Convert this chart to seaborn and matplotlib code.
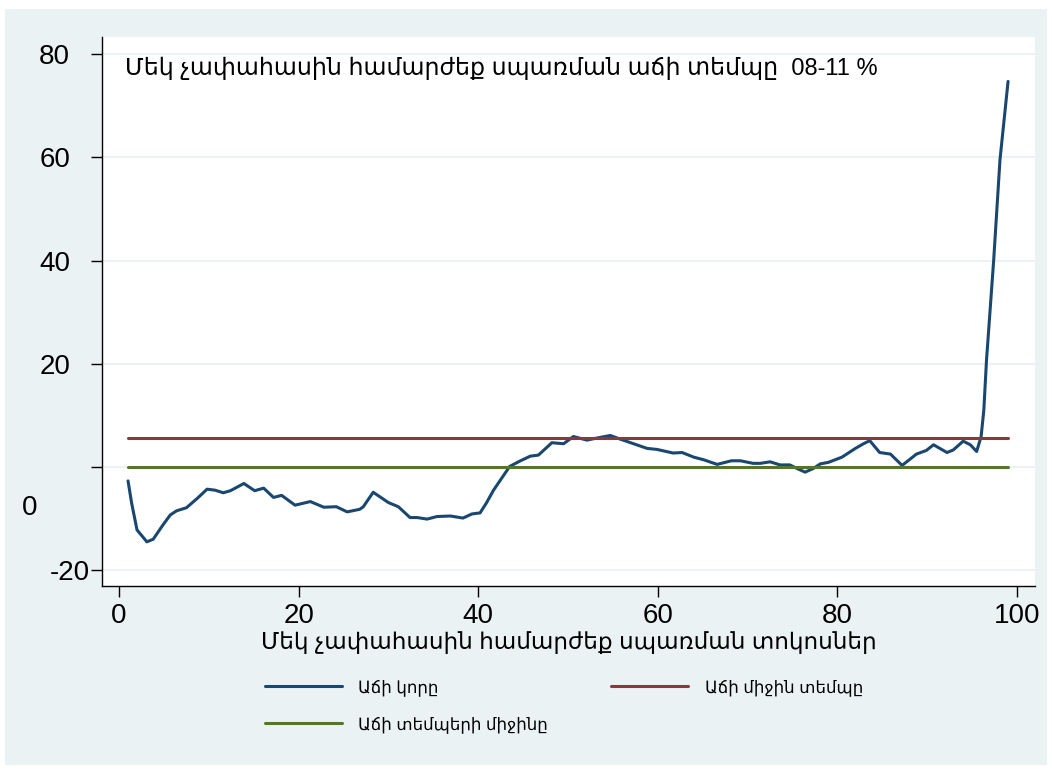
import pandas as pd
import matplotlib
matplotlib.use("Agg")
import matplotlib.pyplot as plt
import matplotlib.transforms as mtransforms
from matplotlib.patches import Rectangle
import seaborn as sns

# --- Տվյալներ (կարդացված գծապատկերից) ---
# սպառման տոկոսներ և աճի կորի արժեքներ
pct = [1.0, 1.4, 2.0, 3.1, 3.8, 4.9, 5.7, 6.4, 7.5, 8.7, 9.8, 10.7, 11.6, 12.4,
       13.9, 15.1, 16.1, 17.2, 18.1, 19.6, 21.3, 22.8, 24.2, 25.4, 26.8, 27.2,
       28.3, 30.0, 31.1, 32.4, 33.2, 34.3, 35.4, 36.9, 38.3, 39.3, 40.2, 40.9,
       41.7, 42.6, 43.5, 44.7, 45.8, 46.7, 48.2, 49.5, 50.6, 52.1, 53.2, 54.7,
       55.8, 57.3, 58.8, 59.9, 61.7, 62.7, 64.0, 65.1, 66.6, 68.2, 69.2, 70.6,
       71.4, 72.5, 73.6, 74.7, 75.5, 76.4, 77.3, 78.1, 79.0, 80.5, 82.0, 82.9,
       83.6, 84.7, 85.9, 87.2, 88.8, 89.9, 90.7, 92.2, 92.9, 94.0, 94.8, 95.5,
       96.0, 96.3, 96.6, 97.4, 98.1, 99.0]
growth_curve = [-2.7, -7.0, -12.2, -14.5, -14.0, -11.2, -9.3, -8.5, -7.9, -6.1,
                -4.3, -4.5, -5.0, -4.6, -3.2, -4.6, -4.1, -5.9, -5.5, -7.4, -6.7,
                -7.8, -7.7, -8.7, -8.2, -7.7, -4.9, -6.9, -7.7, -9.8, -9.8, -10.1,
                -9.6, -9.5, -9.9, -9.1, -8.9, -7.0, -4.5, -2.2, 0.1, 1.2, 2.1, 2.3,
                4.7, 4.5, 5.9, 5.2, 5.6, 6.1, 5.4, 4.5, 3.6, 3.4, 2.7, 2.8, 1.9,
                1.4, 0.5, 1.2, 1.2, 0.7, 0.7, 1.0, 0.4, 0.4, -0.3, -1.0, -0.3, 0.6,
                0.9, 1.9, 3.6, 4.5, 5.1, 2.8, 2.5, 0.3, 2.5, 3.2, 4.3, 2.8, 3.3,
                5.0, 4.3, 3.0, 5.9, 11.0, 20.7, 40.1, 59.5, 74.7]
avg_growth = 5.6       # աճի միջին տեմպը
mean_of_rates = 0.0    # աճի տեմպերի միջինը
pct_range = [1, 99]

title_txt = "Մեկ չափահասին համարժեք սպառման աճի տեմպը  08-11 %"
xlabel_txt = "Մեկ չափահասին համարժեք սպառման տոկոսներ"
names = ["Աճի կորը", "Աճի միջին տեմպը", "Աճի տեմպերի միջինը"]
colors = ["#1A476F", "#90353B", "#55752F"]
xticks = [0, 20, 40, 60, 80, 100]
yticks = [-20, 0, 20, 40, 60, 80]

sns.set_theme(style="white")
plt.rcParams['font.family'] = ['Liberation Sans', 'DejaVu Sans']
plt.rcParams['text.color'] = 'black'
plt.rcParams['axes.labelcolor'] = 'black'
plt.rcParams['xtick.color'] = 'black'
plt.rcParams['ytick.color'] = 'black'
bg = "#EAF2F3"

fig = plt.figure(figsize=(10.52, 7.71), dpi=100, facecolor="white")
fig.add_artist(Rectangle((5 / 1052, 6 / 771), 1042 / 1052, 756 / 771,
                         transform=fig.transFigure, facecolor=bg,
                         edgecolor="none", zorder=-10))
ax = fig.add_axes([102 / 1052, 185 / 771, 933 / 1052, 549 / 771])
ax.set_facecolor("white")

df = pd.concat([
    pd.DataFrame({"x": pct, "y": growth_curve, "series": names[0]}),
    pd.DataFrame({"x": pct_range, "y": [avg_growth] * 2, "series": names[1]}),
    pd.DataFrame({"x": pct_range, "y": [mean_of_rates] * 2, "series": names[2]}),
])
sns.lineplot(data=df, x="x", y="y", hue="series",
             hue_order=[names[0], names[2], names[1]],
             palette=dict(zip(names, colors)), estimator=None, lw=2.2, ax=ax)

ax.set_xlim(-1.9, 102.0)
ax.set_ylim(-23.06, 83.3)
ax.set_xticks(xticks, labels=[str(t) for t in xticks])
ax.set_yticks(yticks, labels=[str(t) for t in yticks])
ax.grid(axis="y", color=bg, lw=1.5)
ax.set_axisbelow(True)
for s in ["top", "right"]:
    ax.spines[s].set_visible(False)
for s in ["left", "bottom"]:
    ax.spines[s].set_color("black")
    ax.spines[s].set_linewidth(1)
ax.tick_params(axis="both", length=8, width=1, color="black", labelsize=20,
               labelcolor="black", direction="out", left=True, bottom=True)
ax.tick_params(axis="y", pad=15)
ax.tick_params(axis="x", pad=4)

# Stata-ի պես՝ «0» և «-20» պիտակների տեղաշարժ
for lab, t in zip(ax.get_yticklabels(), yticks):
    if t == -20:
        lab.set_transform(lab.get_transform() + mtransforms.ScaledTranslation(
            0.20, 0, fig.dpi_scale_trans))
    elif t == 0:
        lab.set_transform(lab.get_transform() + mtransforms.ScaledTranslation(
            -0.33, -0.38, fig.dpi_scale_trans))

ax.set_xlabel(xlabel_txt, fontsize=16.7, labelpad=2, color="black")
ax.set_ylabel("")
ax.text(0.0247, 0.943, title_txt, transform=ax.transAxes, fontsize=17,
        va="center", ha="left", color="black")

handles, labels = ax.get_legend_handles_labels()
ax.get_legend().remove()
fig.legend(handles, labels, ncol=2, loc="upper left",
           bbox_to_anchor=(265 / 1052, 1 - 679 / 771), frameon=False,
           fontsize=12, handlelength=4.6, handletextpad=1.0,
           columnspacing=3.8, labelspacing=1.2, borderpad=0, borderaxespad=0)

fig.savefig("out.png", dpi=100, facecolor="white")
